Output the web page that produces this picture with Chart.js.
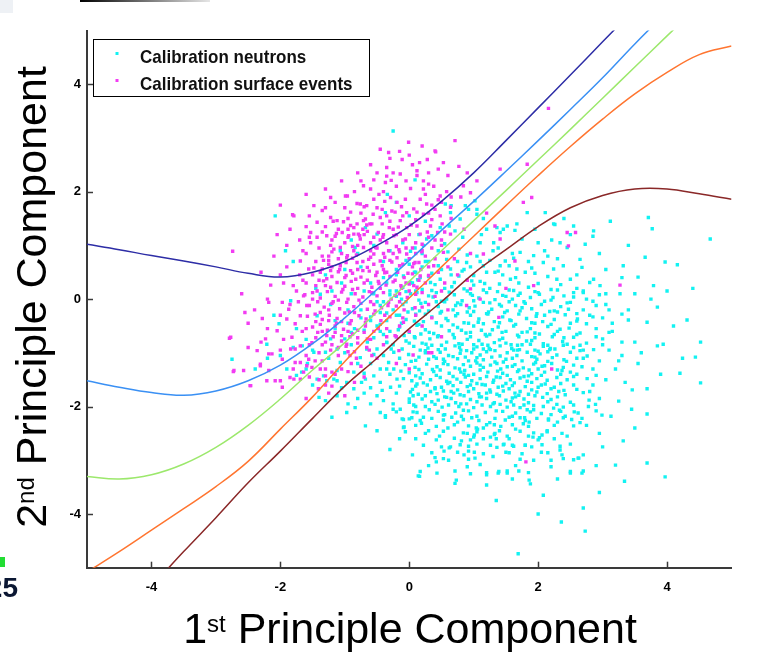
<!DOCTYPE html>
<html><head><meta charset="utf-8">
<script src="https://cdn.jsdelivr.net/npm/chart.js"></script>
<style>html,body{margin:0;padding:0;background:#fff;overflow:hidden}#wrap{width:760px;height:655px;position:relative}</style>
</head><body><div id="wrap"><canvas id="c" width="760" height="655"></canvas></div>
<script>
const xTicks = [-4, -2, 0, 2, 4];
const yTicks = [-4, -2, 0, 2, 4];
const seriesNames = ['Calibration neutrons', 'Calibration surface events'];
const xTitle = ['1', 'st', ' Principle Component'];
const yTitle = ['2', 'nd', ' Principle Component'];

const curveX = [-5,-4.5,-4,-3.5,-3,-2.5,-2,-1.5,-1,-0.5,0,0.5,1,1.5,2,2.5,3,3.5,4,4.5,5];
const curveNavy   = [1.02,0.92,0.81,0.71,0.6,0.48,0.41,0.5,0.7,1.0,1.36,1.82,2.35,2.95,3.56,4.17,4.79,5.4,6.0,6.6,7.2];
const curveBlue   = [-1.52,-1.64,-1.74,-1.79,-1.71,-1.52,-1.23,-0.83,-0.35,0.18,0.72,1.28,1.82,2.38,2.95,3.53,4.12,4.75,5.35,5.95,6.55];
const curveGreen  = [-3.3,-3.35,-3.27,-3.07,-2.76,-2.35,-1.86,-1.32,-0.81,-0.24,0.33,0.9,1.46,2.02,2.59,3.16,3.74,4.32,4.9,5.47,6.05];
const curveOrange = [-5.08,-4.7,-4.3,-3.9,-3.49,-3.02,-2.42,-1.82,-1.16,-0.55,0.02,0.6,1.17,1.74,2.3,2.84,3.35,3.82,4.22,4.55,4.71];
const curveBrown  = [-6.6,-5.98,-5.35,-4.7,-4.07,-3.42,-2.83,-2.22,-1.62,-1.1,-0.55,-0.05,0.48,0.92,1.35,1.7,1.93,2.05,2.05,1.96,1.86];

const neutrons = [
[-0.25,3.13],[0.09,2.22],[-2.08,1.55],[-1.92,0.9],[-1.8,0.7],[-0.34,1.95],[-0.2,1.8],[-0.37,1.61],[-0.68,1.33],[-0.5,1.21],[-0.84,0.96],[-1.07,0.9],[-0.4,0.7],[-0.05,0.72],[0.2,0.6],[0.08,0.5],
[0.56,1.77],[0.65,1.74],[0.48,1.33],[0.62,1.36],[0.79,1.49],[1.02,1.83],[0.92,1.67],[1.05,1.67],[1.15,1.5],[1.36,1.33],[1.52,1.36],[1.67,1.4],[1.64,1.28],[1.2,1.3],
[1.83,1.61],[2.11,1.61],[2.26,1.39],[2.55,1.36],[2.86,1.27],[2.0,1.05],[2.21,1.1],[2.34,1.05],[2.45,0.96],[2.73,1.02],[2.5,1.2],
[0.64,1.61],[0.71,1.27],[1.41,1.24],[1.31,1.05],[1.46,1.3],[1.1,1.05],[0.77,0.93],[0.35,1.18],[0.22,1.0],[0.09,0.95],[0.02,0.89],[0.87,1.74],[1.05,1.58],
[1.93,0.81],[2.08,0.68],[2.24,0.56],[2.39,0.62],[2.68,0.59],[2.86,0.37],[2.5,0.37],[2.29,0.37],[1.8,0.5],[1.67,0.56],[1.57,0.37],[1.41,0.62],[1.33,0.5],[1.49,0.71],[1.72,0.87],
[0.89,0.68],[1.05,0.8],[1.15,0.62],[0.77,0.43],[0.64,0.56],[0.48,0.37],[0.97,0.34],[0.33,0.31],[0.17,0.4],[0.02,0.31],[-0.09,0.43],
[3.12,1.45],[3.71,1.52],[4.67,1.12],[3.77,1.31],[2.24,1.4],[2.85,1.17],[2.65,0.74],[3.32,0.62],[3.66,0.78],[3.97,0.69],[4.16,0.64],[3.55,0.41],[3.79,0.25],[4.31,-0.39],[3.4,-0.39],[3.69,-0.43],[2.96,0.25],[3.27,0.1],[3.05,-0.1],
[3.05,0.55],[2.7,0.15],[3.5,0.1],[3.85,-0.15],[4.0,0.15],[2.95,0.85],[3.4,1.0],[2.4,1.5],
[3.85,-0.87],[3.94,-0.84],[4.52,-0.8],[4.24,-1.1],[4.44,-1.08],[4.2,-1.38],[4.52,-1.56],[3.69,-1.67],[3.46,-1.69],[3.69,-2.14],[3.32,-2.64],[3.69,-3.05],[3.97,-3.31],[3.2,-3.09],[3.34,-3.39],[2.7,-3.2],[2.5,-3.24],[2.62,-2.96],[2.7,-2.9],[2.34,-2.81],[2.37,-2.9],[2.08,-3.65],[2.36,-4.15],[2.7,-3.89],[2.73,-4.32],[1.69,-4.74],[1.86,-3.37],[1.52,-3.2],[1.38,-3.24],[1.2,-3.27],[0.73,-3.37],[0.16,-3.3],[0.42,-3.03],[0.54,-2.83],[0.62,-2.77],[0.81,-2.64],[1.01,-2.85],[0.92,-2.83],[1.06,-2.42],[1.26,-2.57],[1.32,-2.52],[1.35,-2.6],[1.47,-2.7],[1.6,-2.72],[1.8,-2.72],[1.92,-2.57],[2.06,-2.53],[2.14,-2.45],[2.9,-2.08],[2.99,-2.16],[3.13,-2.18],[2.79,-1.88],[2.56,-2.1],[2.42,-2.18],[2.24,-2.03],[2.16,-2.23],[1.93,-2.06],[1.79,-2.21],[1.86,-2.29],[1.6,-2.18],[1.32,-2.34],[1.01,-2.53],[1.04,-2.4],[0.81,-2.18],[0.53,-2.16],[0.22,-2.2],[-0.08,-2.38],[-0.37,-2.2],[-0.25,-2.05],
[2.9,-0.7],[3.1,-0.95],[2.95,-1.15],[3.2,-1.3],[3.05,-1.5],[2.85,-1.6],[3.3,-1.05],[3.5,-0.8],[3.15,-0.6],[2.6,-1.4],[2.95,-1.85],[3.35,-1.55],[3.55,-1.2],[2.7,-1.1],[2.55,-1.6],[3.0,-0.35],[3.4,-0.2],[2.75,-2.35],[2.95,-2.5],[3.25,-1.9],
[-0.1,0.22],[0.05,0.3],[0.2,0.18],[0.4,0.27],[0.55,0.2],[0.7,0.31],[0.85,0.19],[1.0,0.26],[1.1,0.33],[1.25,0.2],[1.4,0.28],[1.55,0.17],[1.7,0.3],[1.85,0.22],[2.0,0.29],[2.2,0.18],[2.35,0.27],[2.6,0.2],[2.8,0.31],
[-0.3,0.08],[-0.12,0.0],[0.02,0.1],[0.15,-0.02],[0.3,0.06],[0.42,0.12],[0.58,0.0],[0.7,0.08],[0.82,-0.03],[0.95,0.1],[1.08,0.02],[1.2,0.12],[1.33,-0.01],[1.45,0.07],[1.6,0.0],[1.72,0.11],[1.88,0.03],[2.02,0.09],[2.2,-0.02],[2.4,0.06],[2.55,0.12],[2.75,0.0],[2.95,0.08],
[-0.45,-0.12],[-0.25,-0.2],[-0.1,-0.1],[0.05,-0.18],[0.18,-0.08],[0.3,-0.22],[0.45,-0.14],[0.55,-0.05],[0.68,-0.2],[0.8,-0.1],[0.9,-0.24],[1.02,-0.13],[1.15,-0.06],[1.28,-0.19],[1.4,-0.1],[1.52,-0.22],[1.65,-0.12],[1.78,-0.05],[1.9,-0.18],[2.05,-0.1],[2.18,-0.23],[2.35,-0.14],[2.5,-0.06],[2.7,-0.2],[2.9,-0.12],[3.1,-0.2],
[-0.6,-0.33],[-0.35,-0.4],[-0.2,-0.3],[-0.05,-0.38],[0.1,-0.28],[0.22,-0.42],[0.35,-0.33],[0.48,-0.26],[0.6,-0.4],[0.72,-0.31],[0.85,-0.44],[0.95,-0.3],[1.08,-0.37],[1.2,-0.27],[1.32,-0.42],[1.45,-0.33],[1.58,-0.4],[1.7,-0.28],[1.82,-0.36],[1.95,-0.45],[2.1,-0.3],[2.25,-0.38],[2.42,-0.29],[2.6,-0.41],[2.85,-0.33],[3.15,-0.45],
[-0.7,-0.58],[-0.5,-0.5],[-0.3,-0.6],[-0.15,-0.52],[0.0,-0.62],[0.12,-0.49],[0.25,-0.57],[0.38,-0.64],[0.5,-0.5],[0.62,-0.59],[0.75,-0.53],[0.88,-0.63],[1.0,-0.5],[1.12,-0.58],[1.25,-0.66],[1.38,-0.52],[1.5,-0.6],[1.62,-0.5],[1.75,-0.62],[1.88,-0.55],[2.02,-0.65],[2.15,-0.51],[2.3,-0.6],[2.48,-0.54],[2.65,-0.63],[2.9,-0.55],
[-0.55,-0.72],[-0.35,-0.8],[-0.2,-0.7],[-0.05,-0.78],[0.08,-0.7],[0.2,-0.82],[0.32,-0.74],[0.45,-0.68],[0.58,-0.8],[0.7,-0.72],[0.82,-0.84],[0.95,-0.7],[1.08,-0.77],[1.2,-0.69],[1.32,-0.81],[1.45,-0.73],[1.58,-0.85],[1.7,-0.7],[1.82,-0.78],[1.95,-0.72],[2.08,-0.83],[2.22,-0.7],[2.38,-0.79],[2.55,-0.71],[2.75,-0.82],[3.0,-0.74],[3.3,-0.8],
[0.07,-0.88],[0.17,-0.95],[0.35,-0.86],[0.56,-0.93],[0.71,-0.87],[0.89,-0.96],[1.05,-0.89],[1.13,-0.84],[1.26,-0.94],[1.41,-0.87],[1.59,-0.92],[1.75,-0.85],[1.95,-0.95],[2.08,-0.88],[2.26,-0.93],[2.39,-0.86],[2.55,-0.9],[2.86,-0.94],
[-0.01,-1.03],[0.25,-1.0],[0.38,-1.07],[0.48,-0.99],[0.61,-1.05],[0.79,-1.01],[0.87,-1.08],[0.97,-1.0],[1.1,-1.04],[1.2,-0.98],[1.41,-1.06],[1.52,-1.0],[1.67,-1.05],[1.83,-0.99],[1.9,-1.07],[2.03,-1.02],[2.29,-1.04],[2.5,-0.99],[2.76,-1.06],
[0.1,-1.14],[0.3,-1.12],[0.55,-1.16],[0.75,-1.11],[0.92,-1.15],[1.15,-1.13],[1.33,-1.17],[1.5,-1.12],[1.75,-1.15],[1.98,-1.12],[2.15,-1.16],[2.4,-1.13],
[-0.06,-1.22],[0.09,-1.27],[0.27,-1.21],[0.43,-1.26],[0.53,-1.2],[0.71,-1.28],[0.84,-1.22],[0.95,-1.25],[1.05,-1.19],[1.15,-1.27],[1.26,-1.23],[1.36,-1.2],[1.52,-1.26],[1.64,-1.22],[1.77,-1.28],[1.93,-1.21],[2.06,-1.25],[2.21,-1.2],[2.39,-1.27],[2.55,-1.23],[2.68,-1.26],
[0.0,-1.37],[0.2,-1.39],[0.38,-1.35],[0.62,-1.38],[0.8,-1.36],[1.0,-1.4],[1.22,-1.36],[1.45,-1.38],[1.68,-1.35],[1.9,-1.39],[2.1,-1.36],[2.35,-1.4],
[-0.09,-1.48],[0.04,-1.52],[0.17,-1.47],[0.33,-1.5],[0.48,-1.46],[0.58,-1.53],[0.74,-1.49],[0.87,-1.45],[0.97,-1.52],[1.1,-1.48],[1.31,-1.51],[1.41,-1.46],[1.57,-1.5],[1.72,-1.47],[1.83,-1.53],[1.98,-1.48],[2.14,-1.51],[2.29,-1.46],[2.45,-1.5],[2.76,-1.48],
[0.1,-1.62],[0.28,-1.6],[0.5,-1.64],[0.68,-1.61],[0.9,-1.63],[1.18,-1.6],[1.38,-1.64],[1.6,-1.61],[1.8,-1.63],[2.05,-1.6],[2.25,-1.64],
[0.02,-1.73],[0.14,-1.77],[0.33,-1.72],[0.43,-1.76],[0.53,-1.71],[0.69,-1.75],[0.79,-1.78],[0.92,-1.72],[1.08,-1.76],[1.26,-1.73],[1.36,-1.77],[1.46,-1.71],[1.64,-1.75],[1.72,-1.72],[1.85,-1.77],[1.98,-1.73],[2.14,-1.76],[2.32,-1.72],[2.42,-1.78],[2.7,-1.74],
[0.2,-1.86],[0.45,-1.88],[0.65,-1.85],[0.95,-1.87],[1.2,-1.85],[1.5,-1.88],[1.78,-1.86],[2.2,-1.87],
[0.07,-1.97],[0.25,-2.0],[0.4,-1.96],[0.51,-2.01],[0.61,-1.97],[0.77,-2.0],[0.89,-1.95],[1.0,-2.02],[1.13,-1.97],[1.26,-2.0],[1.41,-1.96],[1.52,-2.01],[1.62,-1.97],[1.72,-2.02],[1.93,-1.98],[2.08,-2.0],[2.29,-1.96],[2.39,-2.01],[2.55,-1.97],[2.78,-2.0],[2.89,-1.96],
[-0.09,-2.24],[0.04,-2.21],[0.17,-2.26],[0.35,-2.22],[0.53,-2.25],[0.66,-2.2],[0.84,-2.24],[0.97,-2.21],[1.08,-2.26],[1.33,-2.22],[1.49,-2.25],[1.72,-2.21],[1.8,-2.26],[1.98,-2.22],[2.16,-2.25],[2.39,-2.21],[2.52,-2.24],[2.68,-2.22],
[-0.06,-2.47],[0.25,-2.5],[0.53,-2.46],[0.84,-2.49],[1.05,-2.47],[1.33,-2.5],[1.72,-2.46],[1.93,-2.49],[2.14,-2.47],[2.37,-2.5],
[0.22,-2.72],[0.64,-2.75],[0.79,-2.71],[0.92,-2.74],[1.26,-2.72],[1.36,-2.76],[1.46,-2.71],[1.62,-2.74],[1.8,-2.72],[1.9,-2.75],[2.06,-2.71],[2.34,-2.74],
[0.53,-2.97],[0.61,-3.0],[0.92,-2.98],[1.02,-2.96],[1.93,-3.0],[2.39,-2.97],[2.55,-2.99],[2.63,-2.96],
[0.17,-3.21],[0.43,-3.24],[0.71,-3.2],[1.2,-3.23],[1.39,-3.21],[1.52,-3.24],[1.7,-3.2],[1.85,-3.23],[2.5,-3.21],[2.68,-3.24],
[0.71,-3.43],[1.2,-3.46],[1.88,-3.44],
[-2.75,-1.12],[-2.21,-0.84],[-2.0,-1.05],[-1.67,-1.36],[-1.6,-1.3],[-1.58,-1.2],[-1.43,-1.49],[-1.33,-1.43],[-1.75,-1.42],[-1.28,-1.52],[-1.17,-1.49],[-1.12,-1.52],[-1.12,-1.33],[-0.97,-1.55],[-0.86,-1.36],[-0.74,-1.55],[-0.68,-1.49],[-0.86,-1.67],[-0.55,-1.43],[-0.45,-1.3],[-0.32,-1.18],[-0.24,-1.3],[-0.19,-1.49],[-0.5,-1.8],[-0.42,-1.7],[-0.29,-1.64],[-0.4,-1.89],[-0.6,-1.95],[-0.45,-2.11],[-0.37,-2.17],[-0.14,-2.05],[0.0,-1.86],[-0.11,-2.23],[-0.09,-2.39],[0.0,-2.23],[0.06,-2.1],[0.14,-3.29],[-0.68,-2.36],[-0.97,-2.11],[-0.84,-2.02],[-1.3,-1.89],[-1.4,-1.83],[-1.12,-1.8],[-1.48,-0.99],[-1.66,-0.87],[-1.3,-0.99],[-1.07,-1.18],[-1.12,-0.93],[-0.76,-1.09],[-0.66,-0.93],[-0.5,-0.93],[-0.35,-0.81],[-0.24,-0.99],[-0.11,-0.93],[0.09,-0.72],
[-1.38,0.09],[-1.22,-0.1],[-1.43,-0.31],[-0.95,-0.2],[-1.05,0.3],[-0.7,0.15],[-0.5,-0.05],[-0.3,0.15],[-0.15,-0.3],[-0.6,-0.4],[-0.85,-0.55],[-1.0,-0.74],[-1.22,-0.74],[-0.4,0.4],[-0.2,0.55],[0.1,0.15],[-0.75,0.6],[-1.0,0.55],[-0.55,1.0],[-0.3,0.9],[-0.1,1.05],[0.15,1.2],[-1.3,0.45],[-0.9,1.1],[-2.02,-0.46],[-2.1,-0.3],[-1.84,-0.03],[-2.39,-1.3],[-1.6,-0.75],[-1.75,-0.55],[-1.5,-0.95],[0.3,0.7],[0.45,0.9],[0.25,1.45],[0.0,1.55],
[-0.2,0.45],[0.1,0.5],[0.3,0.42],[0.5,0.55],[0.65,0.45],[0.82,0.52],[1.0,0.44],[1.2,0.5],[1.45,0.45],[1.65,0.4],[1.95,0.48],[2.15,0.42],[2.6,0.45],
[0.0,0.65],[0.25,0.7],[0.45,0.62],[0.75,0.7],[0.95,0.6],[1.25,0.72],[1.55,0.62],[1.85,0.7],[2.3,0.75],
[0.2,0.85],[0.6,0.88],[0.9,0.82],[1.3,0.9],[1.6,0.85],[2.1,0.9],
[-0.2,0.15],[0.12,0.12],[0.35,0.16],[0.62,0.13],[0.9,0.15],[1.15,0.17],[1.37,0.14],[1.62,0.16],[1.95,0.14],[2.3,0.17],[2.7,0.12],
[-0.05,-0.05],[0.25,-0.06],[0.5,-0.04],[0.75,-0.07],[1.0,-0.03],[1.25,-0.07],[1.55,-0.05],[1.8,-0.08],[2.1,-0.04],[2.45,-0.07],[2.85,-0.04],
[-0.35,-0.26],[-0.02,-0.24],[0.25,-0.28],[0.5,-0.23],[0.75,-0.27],[1.0,-0.23],[1.22,-0.28],[1.48,-0.25],[1.72,-0.22],[1.98,-0.27],[2.3,-0.24],[2.6,-0.27],[3.3,-0.28],
[-0.45,-0.47],[-0.12,-0.45],[0.15,-0.47],[0.42,-0.44],[0.68,-0.48],[0.92,-0.45],[1.15,-0.46],[1.4,-0.44],[1.65,-0.47],[1.9,-0.44],[2.2,-0.47],[2.5,-0.45],[2.75,-0.46],
[-0.4,-0.66],[-0.08,-0.68],[0.18,-0.65],[0.44,-0.7],[0.68,-0.66],[0.95,-0.62],[1.18,-0.66],[1.44,-0.62],[1.68,-0.67],[1.95,-0.63],[2.25,-0.66],[2.6,-0.66],[3.1,-0.62],
[-0.25,-0.85],[0.0,-0.82],[0.26,-0.84],[0.5,-0.86],[0.77,-0.83],[1.0,-0.85],[1.22,-0.86],[1.5,-0.82],[1.68,-0.86],[1.88,-0.84],[2.15,-0.86],[2.45,-0.84],[2.65,-0.86],
[0.25,-0.96],[0.45,-0.94],[0.8,-0.95],[1.0,-0.93],[1.33,-0.96],[1.68,-0.95],[2.0,-0.97],[2.18,-0.94],[2.65,-0.96],
[0.15,-1.08],[0.42,-1.1],[0.68,-1.07],[1.05,-1.09],[1.28,-1.08],[1.6,-1.1],[1.95,-1.08],[2.22,-1.09],[2.6,-1.1],
[0.15,-1.31],[0.48,-1.32],[0.78,-1.3],[1.1,-1.32],[1.42,-1.3],[1.7,-1.32],[2.0,-1.3],[2.3,-1.32],[2.85,-1.3],
[0.1,-1.43],[0.42,-1.42],[0.68,-1.44],[0.92,-1.42],[1.2,-1.44],[1.52,-1.42],[1.78,-1.44],[2.05,-1.42],[2.55,-1.44],
[0.22,-1.56],[0.6,-1.57],[0.8,-1.55],[1.05,-1.57],[1.3,-1.55],[1.5,-1.57],[1.9,-1.55],[2.35,-1.57],
[0.05,-1.68],[0.4,-1.67],[0.75,-1.69],[1.0,-1.67],[1.25,-1.69],[1.55,-1.67],[1.9,-1.69],[2.2,-1.67],[2.6,-1.68],
[0.25,-1.8],[0.55,-1.82],[0.85,-1.8],[1.12,-1.82],[1.4,-1.8],[1.65,-1.82],[1.95,-1.8],[2.3,-1.82],
[0.0,-1.92],[0.35,-1.91],[0.72,-1.93],[1.05,-1.91],[1.32,-1.93],[1.58,-1.91],[1.85,-1.93],[2.15,-1.91],[2.5,-1.92],
[-0.2,-2.1],[0.12,-2.11],[0.45,-2.09],[0.72,-2.12],[0.92,-2.08],[1.18,-2.11],[1.45,-2.09],[1.65,-2.12],[1.88,-2.1],[2.05,-2.13],[2.35,-2.09],[2.62,-2.12],
[0.1,-2.35],[0.42,-2.37],[0.7,-2.34],[0.92,-2.36],[1.2,-2.34],[1.42,-2.37],[1.6,-2.34],[1.85,-2.37],[2.25,-2.35],[2.55,-2.36],
[0.1,-2.6],[0.42,-2.62],[0.7,-2.59],[0.95,-2.62],[1.15,-2.6],[1.55,-2.6],[2.0,-2.62],[2.25,-2.6],
[0.35,-2.86],[0.75,-2.85],[1.15,-2.88],[1.55,-2.86],[1.75,-2.88],[2.15,-2.86],
[0.3,-3.1],[0.9,-3.12],[1.1,-3.08],[1.65,-3.1],[2.2,-3.12],[2.9,-3.1],
[-1.0,-1.0],[-0.8,-1.2],[-0.6,-1.2],[-0.4,-1.05],[-0.15,-1.1],[-0.3,-1.4],[-0.6,-1.65],[-0.2,-1.75],[-0.8,-1.85],[-0.15,-2.6],[-0.5,-2.45],[-0.3,-2.8],[-1.2,-2.2],[-1.5,-1.6],[-1.9,-1.3],[-1.8,-0.9],[-2.2,-1.1],[-0.95,-0.45],[-1.15,-0.4],[-0.75,-0.2],[-0.45,-0.25],[-0.2,0.05],[-0.6,0.3],[-0.9,0.1],[-1.2,0.15],[-1.45,0.2],[-0.8,0.85],
[0.13,0.36],[0.37,0.04],[0.66,0.23],[0.93,-0.16],[1.17,0.29],[1.43,-0.13],[1.69,0.07],[1.97,-0.32],[2.23,0.03],[2.47,-0.19],
[-0.17,-0.57],[0.08,-0.41],[0.31,-0.62],[0.57,-0.36],[0.81,-0.58],[1.07,-0.43],[1.29,-0.57],[1.56,-0.39],[1.83,-0.61],[2.07,-0.42],[2.34,-0.56],[2.61,-0.37],
[-0.28,-0.93],[0.03,-1.16],[0.29,-0.91],[0.53,-1.12],[0.78,-0.9],[1.03,-1.15],[1.24,-0.92],[1.46,-1.17],[1.71,-0.94],[1.96,-1.18],[2.19,-0.92],[2.44,-1.16],
[-0.13,-1.34],[0.12,-1.58],[0.36,-1.31],[0.63,-1.55],[0.86,-1.33],[1.13,-1.59],[1.37,-1.34],[1.63,-1.56],[1.86,-1.32],[2.11,-1.58],[2.37,-1.33],
[0.06,-1.8],[0.31,-2.06],[0.58,-1.83],[0.84,-2.07],[1.09,-1.82],[1.35,-2.08],[1.6,-1.84],[1.83,-2.06],[2.07,-1.83],[2.33,-2.07],
[0.19,-2.31],[0.47,-2.55],[0.75,-2.29],[1.0,-2.57],[1.25,-2.3],[1.52,-2.55],[1.77,-2.32],[2.02,-2.58],[2.3,-2.29],
[0.4,-2.95],[0.85,-2.9],[1.3,-2.93],[1.72,-2.98],[2.2,-3.0],
[0.35,0.48],[0.58,0.74],[0.85,0.55],[1.1,0.7],[1.38,0.52],[1.62,0.76],[1.9,0.58],[2.15,0.8],
[0.27,1.12],[0.55,1.03],[0.83,1.15],[1.12,1.2],[1.38,0.95],[1.75,1.12],[1.95,1.3],
[-0.4,-0.05],[-0.55,0.1],[-0.35,0.3],[-0.75,-0.35],[-0.9,-0.62],[-1.15,-0.55],[-0.45,-0.6],[-0.65,-0.8],[-0.9,-0.85],[-1.25,-1.1],[-0.7,-1.38],[-0.55,-1.03],[-0.35,-1.3],[-0.15,-1.62],[-0.45,-1.55],[-0.25,-1.95],[-0.7,-1.75],[-1.05,-1.65],[-0.95,-1.95],
[0.72,-0.12],[0.98,0.07],[1.23,-0.24],[1.5,0.05],[1.75,-0.16],[2.0,0.12],[2.25,-0.22],[2.55,0.04],[2.8,-0.3],[3.05,0.1],
[0.16,-0.22],[0.42,-0.05],[-0.05,0.14],
[0.9,-0.75],[1.15,-0.93],[1.4,-0.76],[1.62,-0.95],[1.9,-0.77],[2.15,-0.98],[2.4,-0.72],[2.7,-0.95],[3.0,-0.85],[3.25,-1.15],
[0.6,-1.22],[0.85,-1.4],[1.1,-1.23],[1.35,-1.45],[1.6,-1.25],[1.85,-1.43],[2.1,-1.24],[2.5,-1.36],[2.9,-1.42],
[0.4,-1.65],[0.65,-1.72],[0.95,-1.6],[1.2,-1.75],[1.45,-1.62],[1.7,-1.79],[2.0,-1.64],[2.4,-1.7],[2.8,-1.72],
[0.1,-2.0],[0.55,-2.15],[0.8,-1.95],[1.05,-2.18],[1.3,-1.95],[1.55,-2.2],[1.78,-1.97],[2.2,-2.15],[2.65,-2.3],
[0.3,-2.45],[0.6,-2.4],[0.9,-2.5],[1.15,-2.4],[1.4,-2.45],[1.65,-2.42],[1.85,-2.55],[2.45,-2.55],
[0.5,-2.75],[1.05,-2.7],[1.5,-2.85],[2.05,-2.85],[2.5,-2.7],[0.05,-2.9],[0.95,-3.25],[1.6,-3.35],[2.3,-3.35],[3.0,-2.75],[3.5,-2.4],[3.6,-1.0],[3.9,-1.4],[4.1,-0.5],[3.75,0.0],[3.3,0.4],[4.4,0.2],[3.45,-2.05],[2.0,-4.0],[1.35,-3.75],[2.95,-3.6]
];

const surfaceEvents = [
[-0.01,2.92],[0.71,2.95],[-0.45,2.79],[-0.32,2.73],[-0.11,2.6],[0.41,2.74],[0.16,2.54],[0.53,2.54],[0.77,2.47],[0.45,2.42],[0.12,2.39],[-0.14,2.33],[-0.35,2.29],[-0.55,2.22],[-0.37,2.17],[-0.28,2.21],[0.12,2.3],[0.3,2.14],[0.38,2.1],[0.22,2.05],[0.02,2.06],[-0.4,2.0],[-0.99,1.92],[-0.81,1.78],[-0.76,1.77],[-0.66,1.74],[-0.55,1.86],[-0.29,1.89],[-0.06,1.86],[0.17,1.86],[0.27,1.77],[0.48,1.92],[0.58,2.0],[0.84,2.11],[0.95,1.98],[0.8,1.9],[-0.42,1.67],[-0.27,1.64],[-0.19,1.8],[-0.04,1.61],[0.07,1.68],[0.22,1.58],[0.4,1.67],[0.48,1.55],[0.64,1.71],[0.51,1.4],[0.33,1.36],[0.12,1.36],[-0.04,1.33],[-0.14,1.46],[-0.35,1.55],[-0.68,1.49],[-0.61,1.4],[-0.86,1.33],[-0.79,1.21],[-0.48,1.24],[-0.42,1.4],[-0.94,1.18],[-0.72,1.3],[-0.24,1.18],[0.17,1.21],[0.44,1.24],[0.64,1.21],
[-0.71,2.11],[-0.96,1.92],[-1.22,1.89],[-1.15,1.8],[-1.48,1.74],[-1.79,1.55],[-1.43,1.43],[-1.22,1.52],[-1.12,1.46],[-1.53,1.24],[-1.43,1.15],[-1.53,1.05],[-1.28,1.18],[-1.15,1.17],[-1.04,1.24],[-0.91,1.37],[-0.81,1.4],[-0.71,1.46],[-0.58,1.4],[-0.45,1.52],[-0.86,1.21],[-0.76,1.12],[-0.65,1.26],[-0.55,1.15],[-0.4,1.2],[-0.17,1.34],[-1.17,0.93],[-1.07,0.96],[-0.96,0.81],[-0.86,0.9],[-0.71,0.96],[-0.55,0.84],[-0.45,0.71],[-0.32,0.9],[-0.19,0.77],[-0.04,0.84],[0.07,0.66],[-0.65,0.59],[-0.5,0.5],[-0.81,0.68],[-0.91,0.53],[-1.07,0.62],[-1.22,0.53],[-1.35,0.56],[-1.56,0.56],[-1.69,0.71],[-2.74,0.89],[-1.81,1.57],[-1.35,1.65],[-1.6,1.35],[-1.9,1.0],[-2.05,1.2],[-1.65,0.9],[-1.35,0.8],[-1.25,0.72],
[-2.77,-0.71],[-2.72,-1.33],[-2.57,-1.33],[-2.15,0.26],[-2.18,-0.06],[-2.28,-0.36],[-1.97,-0.06],[-1.87,-0.19],[-1.9,-0.37],[-2.05,-0.59],[-2.23,-0.74],[-2.36,-0.96],[-2.13,-1.02],[-1.97,-1.12],[-2.31,-1.24],[-2.18,-1.33],[-2.46,-1.61],[-1.97,-1.64],[-2.08,-1.52],[-1.79,-1.49],[-1.69,-1.49],[-1.64,0.06],[-1.59,-0.12],[-1.69,-0.31],[-1.77,-0.46],[-1.82,-0.71],[-1.69,-0.87],[-1.56,-1.12],[-1.51,-1.27],[-1.64,-1.36],[-1.77,-1.18],[-1.84,-0.93],[-2.5,-0.45],[-2.4,-0.2],[-2.6,0.1],[-2.0,0.45],
[-1.5,0.45],[-1.38,0.5],[-1.2,0.42],[-1.1,0.51],[-0.98,0.44],[-0.88,0.48],[-0.75,0.41],[-0.62,0.52],[-0.52,0.44],[-0.4,0.55],[-0.3,0.42],[-0.18,0.5],[-0.08,0.4],[0.05,0.47],[0.18,0.55],[0.3,0.44],
[-1.6,0.3],[-1.45,0.25],[-1.33,0.34],[-1.22,0.22],[-1.12,0.31],[-1.0,0.24],[-0.9,0.33],[-0.8,0.2],[-0.7,0.3],[-0.58,0.22],[-0.48,0.33],[-0.36,0.26],[-0.25,0.32],[-0.12,0.2],[0.0,0.28],[0.12,0.22],[0.25,0.3],
[-1.62,0.08],[-1.5,0.12],[-1.38,0.02],[-1.27,0.14],[-1.15,0.05],[-1.05,0.13],[-0.95,0.0],[-0.84,0.1],[-0.72,0.04],[-0.62,0.14],[-0.5,0.06],[-0.4,0.12],[-0.28,0.0],[-0.15,0.1],[-0.03,0.03],[0.1,0.09],
[-1.55,-0.12],[-1.42,-0.05],[-1.32,-0.15],[-1.2,-0.08],[-1.08,-0.18],[-0.97,-0.06],[-0.86,-0.14],[-0.75,-0.08],[-0.65,-0.19],[-0.55,-0.1],[-0.43,-0.16],[-0.32,-0.06],[-0.2,-0.13],[-0.08,-0.2],
[-1.58,-0.32],[-1.46,-0.28],[-1.35,-0.38],[-1.24,-0.3],[-1.12,-0.36],[-1.0,-0.26],[-0.9,-0.4],[-0.78,-0.31],[-0.67,-0.37],[-0.55,-0.28],[-0.44,-0.4],[-0.3,-0.33],
[-1.5,-0.52],[-1.38,-0.47],[-1.27,-0.58],[-1.15,-0.5],[-1.02,-0.56],[-0.92,-0.46],[-0.8,-0.58],[-0.68,-0.5],[-0.55,-0.6],
[-1.45,-0.72],[-1.3,-0.8],[-1.18,-0.7],[-1.05,-0.78],[-0.92,-0.7],[-0.8,-0.82],[-0.65,-0.74],
[-1.4,-1.0],[-1.22,-0.95],[-1.1,-1.05],[-0.95,-0.98],[-0.82,-1.1],[-1.35,-1.15],
[-1.3,-1.3],[-1.15,-1.4],[-0.95,-1.35],[-1.4,-1.5],[-1.2,-1.62],[-0.85,-1.55],[-1.0,-1.8],
[-1.25,0.65],[-1.1,0.75],[-0.98,0.68],[-0.88,0.76],[-0.72,0.7],[-0.6,0.78],[-0.42,0.62],[-0.3,0.72],[-0.15,0.62],[0.0,0.75],[0.15,0.68],[0.25,0.8],[-1.2,0.88],[-1.0,1.05],[-0.8,1.0],[-0.6,1.05],[-0.5,0.95],[-0.35,1.05],[-0.2,0.98],[-0.1,1.1],[0.05,0.95],[0.2,1.02],[0.35,0.95],[-0.15,0.88],[0.1,0.85],[-0.4,0.85],[-0.25,1.3],[0.0,1.2],[0.3,1.15],
[0.45,0.5],[0.55,0.3],[0.4,0.05],[0.6,-0.2],[0.35,-0.35],[0.2,-0.5],[0.0,-0.6],[-0.2,-0.7],[-0.4,-0.85],[0.5,-0.7],[0.7,0.75],[0.9,0.35],[1.1,0.0],[1.5,0.2],[0.3,-1.0],[-0.2,-1.2],[0.5,1.0],[0.85,1.3],
[1.77,1.8],[2.45,1.24],[2.58,1.24],[1.41,1.12],[1.64,0.71],[1.33,1.36],[1.15,0.84],[0.95,0.19],[1.39,-0.34],[1.93,0.25],[0.53,0.87],[0.38,0.62],[0.17,0.43],[0.07,0.25],[0.09,-0.16],[-0.09,-0.43],[0.89,-0.12],
[0.06,-1.04],[0.0,-1.3],[0.35,-1.0],[2.21,-1.3],[1.81,-3.03],[-0.22,-0.68],[-0.16,-0.96],
[2.16,3.55],[2.47,0.99],[3.27,0.26],[1.83,2.51],[1.41,2.42],[1.9,1.89],[0.4,2.76],
[-2.79,-0.73],[-2.73,-1.35],[-2.31,-1.21],[-2.18,-1.02],[-2.47,-1.61],[-2.21,-1.52],[-2.0,-1.52],[-1.85,-1.46],[-1.77,-0.93],[-1.69,-1.18],[-1.59,-1.24],[-1.46,-1.15],[-1.38,-1.3],[-1.3,-1.43],[-1.41,-1.67],[-1.2,-1.36],[-0.97,-0.84],[-0.92,-1.05],[-0.58,-1.05],[-0.66,-0.9],[-1.28,-0.68],[-1.51,-0.81],
[-1.3,1.35],[-1.1,1.3],[-0.95,1.5],[-0.75,1.6],[-0.5,1.7],[-0.3,1.45],[-0.1,1.55],[0.1,1.48],[0.3,1.6],[-1.4,0.95],[-1.2,1.1],[-0.95,1.15],[-0.7,1.2],[-0.45,1.1],[-0.2,1.2],[0.1,1.05],[0.4,1.1],[-1.45,0.7],[-1.25,0.8],[-1.05,0.85],[-0.82,0.82],[-0.6,0.9],[-0.38,0.78],[-0.25,0.85],[-0.05,0.95],[0.2,0.9],[-1.4,0.35],[-1.2,0.6],[-1.0,0.4],[-0.8,0.55],[-0.55,0.65],[-0.35,0.5],[-0.1,0.65],[0.15,0.35],[-1.5,0.0],[-1.3,0.25],[-1.1,-0.02],[-0.88,0.18],[-0.65,0.35],[-0.45,0.2],[-0.22,0.35],[0.0,0.15],[-1.45,-0.42],[-1.25,-0.2],[-1.05,-0.42],[-0.85,-0.25],[-0.6,-0.05],[-0.38,-0.3],[-0.15,-0.05],[-1.35,-0.6],[-1.15,-0.62],[-0.95,-0.6],[-0.7,-0.62],[-0.48,-0.55],[-1.6,-0.55],[-1.55,-0.85],[-1.2,-0.85],[-0.98,-0.88],[-0.62,-0.95],[-1.65,0.35],[-1.75,0.15],[-1.85,-0.1],[-1.9,0.6],[-1.7,1.1],[-1.55,1.55],[-1.3,1.7],[-1.0,1.7],[-0.85,2.0],[-0.6,2.05],[-0.2,2.1],[0.25,1.95],[0.5,1.8],[0.65,1.5],[0.55,1.25],[0.4,0.75],[0.6,0.6],[-0.35,2.45],[0.05,2.5],[0.3,2.35],[-0.15,2.75],[0.2,2.85],[-0.6,2.5],[-0.8,2.35],[-1.05,2.2],[-1.3,2.05],[-2.0,1.75],[-2.3,0.5],[-2.5,-0.9],[-2.2,-0.55],[-1.95,-0.75],[-1.3,-1.6],[-1.6,-1.85],[-1.05,-1.3],[-0.75,-1.25],[-0.5,-1.1],[-0.35,-0.55],[-0.1,-0.35],[0.2,-0.15],[0.5,0.15],[0.75,0.45],[0.95,0.85],[1.2,1.6],[0.9,2.35],[1.05,2.2],
[-1.33,0.72],[-1.08,0.55],[-0.83,0.37],[-0.58,0.12],[-0.33,-0.12],[-1.22,1.0],[-0.97,0.77],[-0.72,0.53],[-0.47,0.29],[-0.22,0.07],[-1.13,1.22],[-0.88,0.98],[-0.63,0.74],[-0.38,0.49],[-0.13,0.25],[-1.02,1.44],[-0.77,1.18],[-0.52,0.96],[-0.27,0.69],[-0.02,0.48],[-0.91,1.62],[-0.66,1.38],[-0.41,1.15],[-0.16,0.92],[0.09,0.68],[-0.56,1.58],[-0.31,1.33],[-0.06,1.12],[0.19,0.88],[-0.47,1.95],[-0.22,1.62],[0.03,1.38],[0.28,1.25],
[-1.48,0.58],[-1.28,0.38],[-1.03,0.18],[-0.78,-0.02],[-0.53,-0.22],[-1.43,0.15],[-1.18,-0.05],[-0.93,-0.24],[-0.68,-0.44],[-1.38,-0.25],[-1.13,-0.45],[-0.88,-0.65],[-1.6,0.85],[-1.7,0.45],[-1.8,0.25],[-1.72,-0.05],[-1.66,-0.6],[-1.42,-0.62],[-1.25,-0.4],[-1.05,-0.68],[-0.8,-0.72],[-1.55,1.15],[-1.35,1.25],[-1.18,1.45],[-0.95,1.3],[-0.7,1.72],[-0.38,1.82],[-0.12,1.72],[0.12,1.62],[0.35,1.48],[0.45,1.85],[0.22,2.2],[-0.05,2.2],[-0.25,2.35],[-0.5,2.35],[-0.75,2.2],[-0.3,2.62],[0.0,2.68],[0.28,2.6],[0.6,2.3],[0.65,1.9],[0.35,1.75],[0.5,1.1],[0.3,0.6],[0.05,0.6],[-0.05,0.3],[0.2,0.12],[0.3,-0.1],[0.1,-0.3],[-0.15,-0.5],[-0.35,-0.7],[-0.6,-0.75],[-0.85,-0.98],[-1.1,-0.9],[-1.35,-0.85],[-1.6,-1.05],[-2.0,-0.3],[-2.2,0.0],[-1.95,0.3],[-2.3,-0.8],[-2.0,-0.95],[-1.8,-1.3],[-1.55,-1.45],[-1.25,-1.75],[-0.9,-1.2],[-0.7,-1.45],[-2.55,-0.25],[-2.1,0.8],[-1.85,1.3],[-1.6,1.95]
];

const FONT = "'Liberation Sans', Arial, Helvetica, sans-serif";
const colNeutron = '#12f2f2';
const colSurface = '#f23cf2';

function toXY(pts){ return pts.map(p => ({x: p[0], y: p[1]})); }
function curve(label, ys, color){
  return { type: 'line', label, data: curveX.map((x, i) => ({x, y: ys[i]})),
    borderColor: color, borderWidth: 1.5, pointRadius: 0, pointHoverRadius: 0,
    fill: false, tension: 0.4, order: 0 };
}

function drawRich(ctx, parts, sizes, raises){
  let total = 0;
  const widths = parts.map((t, i) => { ctx.font = sizes[i] + 'px ' + FONT; const w = ctx.measureText(t).width; total += w; return w; });
  let x = -total / 2;
  parts.forEach((t, i) => { ctx.font = sizes[i] + 'px ' + FONT; ctx.fillText(t, x, -raises[i]); x += widths[i]; });
}

const decor = {
  id: 'decor',
  afterDraw(chart){
    const ctx = chart.ctx, xs = chart.scales.x, ys = chart.scales.y, a = chart.chartArea;
    ctx.save();
    ctx.strokeStyle = '#3a3a3a'; ctx.lineWidth = 1.5;
    xTicks.forEach(v => { const px = Math.round(xs.getPixelForValue(v)) + 0.5; ctx.beginPath(); ctx.moveTo(px, a.bottom); ctx.lineTo(px, a.bottom - 6); ctx.stroke(); });
    yTicks.forEach(v => { const py = Math.round(ys.getPixelForValue(v)) + 0.5; ctx.beginPath(); ctx.moveTo(a.left, py); ctx.lineTo(a.left + 6, py); ctx.stroke(); });
    ctx.fillStyle = '#fff'; ctx.fillRect(93.5, 39.5, 276, 57);
    ctx.strokeStyle = '#000'; ctx.lineWidth = 1; ctx.strokeRect(93.5, 39.5, 276, 57);
    ctx.fillStyle = colNeutron; ctx.fillRect(115.5, 52, 3, 3);
    ctx.fillStyle = colSurface; ctx.fillRect(115.5, 79, 3, 3);
    ctx.fillStyle = '#111'; ctx.textAlign = 'left'; ctx.textBaseline = 'alphabetic';
    ctx.font = 'bold 17px ' + FONT;
    [[seriesNames[0], 63.3], [seriesNames[1], 90]].forEach(([t, y]) => {
      ctx.save(); ctx.translate(140, y); ctx.scale(1, 1.12); ctx.fillText(t, 0, 0); ctx.restore();
    });
    ctx.fillStyle = '#000';
    ctx.save(); ctx.translate(410, 643); drawRich(ctx, xTitle, [43, 24, 43], [0, 11, 0]); ctx.restore();
    ctx.save(); ctx.translate(46, 297); ctx.rotate(-Math.PI / 2); drawRich(ctx, yTitle, [43, 24, 43], [0, 12, 0]); ctx.restore();
    const g = ctx.createLinearGradient(80, 0, 210, 0); g.addColorStop(0, '#000'); g.addColorStop(1, '#e6e6e6');
    ctx.fillStyle = g; ctx.fillRect(80, 0, 130, 2);
    ctx.fillStyle = '#eef1f5'; ctx.fillRect(0, 0, 13, 13);
    ctx.fillStyle = '#22dd33'; ctx.fillRect(0, 557, 5, 10);
    ctx.fillStyle = '#0b1733'; ctx.font = 'bold 28px ' + FONT; ctx.textAlign = 'right'; ctx.fillText('25', 18, 597);
    ctx.restore();
  }
};

const tickFont = { family: FONT, weight: 'bold', size: 13 };
new Chart(document.getElementById('c'), {
  type: 'scatter',
  data: { datasets: [
    curve('navy', curveNavy, '#2d2da6'),
    curve('blue', curveBlue, '#3a90f4'),
    curve('green', curveGreen, '#9ce86c'),
    curve('orange', curveOrange, '#ff7530'),
    curve('brown', curveBrown, '#8a2828'),
    { label: seriesNames[1], data: toXY(surfaceEvents), backgroundColor: colSurface, borderWidth: 0, pointStyle: 'rect', pointRadius: 2.4, pointHoverRadius: 2.4, order: 1 },
    { label: seriesNames[0], data: toXY(neutrons), backgroundColor: colNeutron, borderWidth: 0, pointStyle: 'rect', pointRadius: 2.4, pointHoverRadius: 2.4, order: 2 }
  ]},
  options: {
    responsive: false, animation: false, devicePixelRatio: 1,
    layout: { padding: { left: 0, right: 28.5, top: 30.5, bottom: 0 } },
    plugins: { legend: { display: false }, tooltip: { enabled: false } },
    scales: {
      x: { type: 'linear', min: -5, max: 5,
        afterFit(s){ s.height = 87.3; },
        afterBuildTicks(s){ s.ticks = xTicks.map(v => ({ value: v })); },
        grid: { drawOnChartArea: false, drawTicks: false },
        border: { display: true, color: '#3a3a3a', width: 2 },
        ticks: { font: tickFont, color: '#000', padding: 12, maxRotation: 0, autoSkip: false } },
      y: { type: 'linear', min: -5, max: 5,
        afterFit(s){ s.width = 87; },
        afterBuildTicks(s){ s.ticks = yTicks.map(v => ({ value: v })); },
        grid: { drawOnChartArea: false, drawTicks: false },
        border: { display: true, color: '#3a3a3a', width: 2 },
        ticks: { font: tickFont, color: '#000', padding: 6, autoSkip: false } }
    }
  },
  plugins: [decor]
});
</script>
</body></html>
